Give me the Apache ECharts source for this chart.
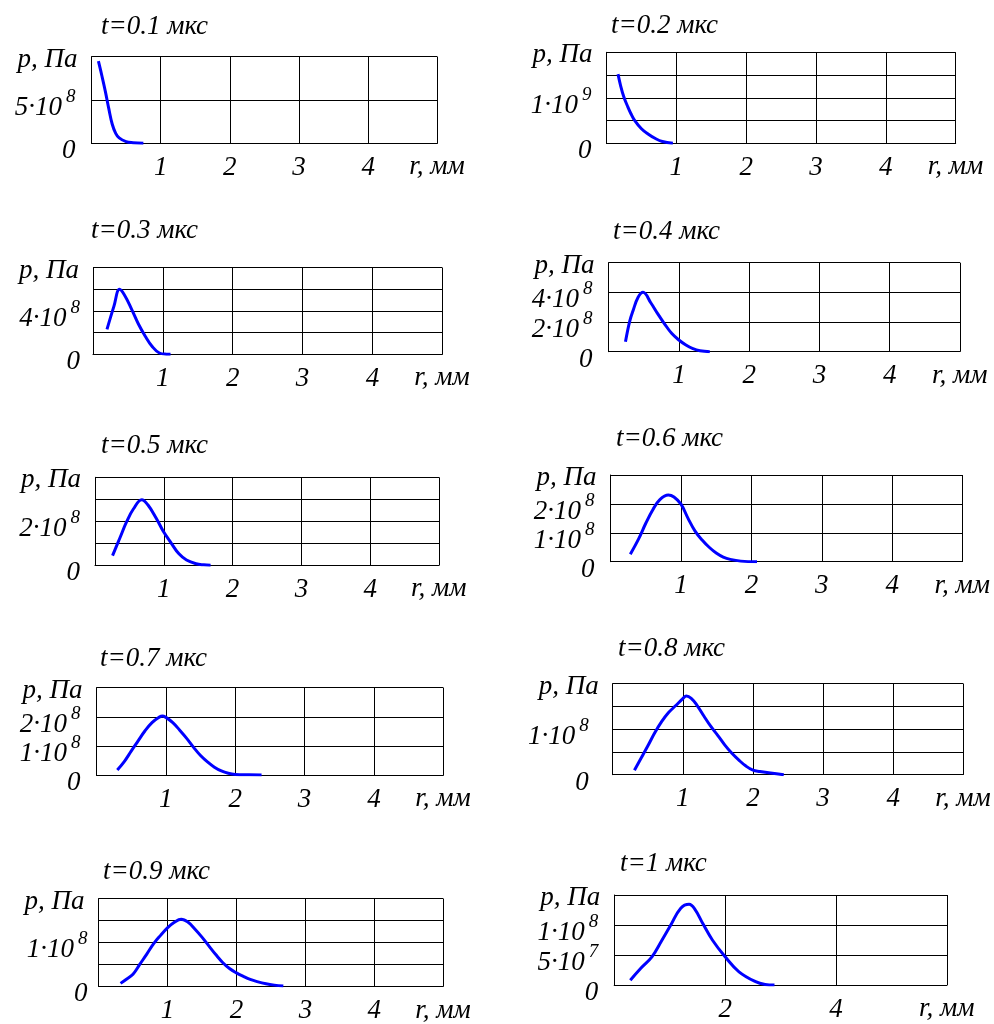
<!DOCTYPE html>
<html>
<head>
<meta charset="utf-8">
<script src="https://cdn.jsdelivr.net/npm/echarts@6/dist/echarts.min.js"></script>
<style>
  html, body { margin: 0; padding: 0; background: #fff; }
  #chart { width: 994px; height: 1024px; }
</style>
</head>
<body>
<div id="chart"></div>
<script>
// Pressure profiles p(r) at successive moments t, one small panel per moment.
const times = ['0.1', '0.2', '0.3', '0.4', '0.5', '0.6', '0.7', '0.8', '0.9', '1'];

// r, mm  /  p, Pa
const r01 = [0.10, 0.15, 0.20, 0.25, 0.30, 0.35, 0.40, 0.50, 0.60, 0.75];
const p01 = [9.5e8, 7.8e8, 6.0e8, 4.0e8, 2.2e8, 1.15e8, 0.62e8, 0.2e8, 0.07e8, 0];

const r02 = [0.165, 0.20, 0.25, 0.30, 0.35, 0.40, 0.50, 0.60, 0.70, 0.80, 0.95];
const p02 = [1.52e9, 1.28e9, 1.01e9, 0.82e9, 0.65e9, 0.51e9, 0.32e9, 0.2e9, 0.105e9, 0.04e9, 0];

const r03 = [0.20, 0.30, 0.38, 0.45, 0.55, 0.65, 0.75, 0.85, 0.95, 1.05, 1.11];
const p03 = [2.3e8, 4.45e8, 6.0e8, 5.48e8, 4.2e8, 2.8e8, 1.65e8, 0.7e8, 0.12e8, 0.01e8, 0];

const r04 = [0.24, 0.30, 0.35, 0.42, 0.49, 0.60, 0.70, 0.80, 0.90, 1.0, 1.1, 1.2, 1.3, 1.44];
const p04 = [0.67e8, 2.05e8, 2.8e8, 3.67e8, 4.0e8, 3.3e8, 2.55e8, 1.85e8, 1.22e8, 0.79e8, 0.45e8, 0.2e8, 0.06e8, 0];

const r05 = [0.255, 0.36, 0.46, 0.56, 0.68, 0.77, 0.89, 0.99, 1.11, 1.22, 1.33, 1.47, 1.58, 1.68];
const p05 = [0.44e8, 1.23e8, 1.98e8, 2.57e8, 2.98e8, 2.74e8, 2.14e8, 1.56e8, 1.0e8, 0.52e8, 0.24e8, 0.07e8, 0.02e8, 0];

const r06 = [0.28, 0.40, 0.50, 0.60, 0.70, 0.82, 0.90, 1.0, 1.1, 1.2, 1.3, 1.4, 1.5, 1.6, 1.7, 1.85, 2.08];
const p06 = [0.26e8, 0.8e8, 1.33e8, 1.8e8, 2.15e8, 2.31e8, 2.24e8, 1.99e8, 1.5e8, 1.06e8, 0.75e8, 0.5e8, 0.3e8, 0.16e8, 0.08e8, 0.02e8, 0];

const r07 = [0.30, 0.40, 0.50, 0.60, 0.70, 0.80, 0.90, 0.95, 1.0, 1.1, 1.2, 1.3, 1.4, 1.5, 1.6, 1.7, 1.8, 1.9, 2.0, 2.2, 2.38];
const p07 = [0.17e8, 0.46e8, 0.82e8, 1.17e8, 1.52e8, 1.8e8, 1.98e8, 2.03e8, 1.98e8, 1.8e8, 1.54e8, 1.26e8, 0.95e8, 0.67e8, 0.45e8, 0.27e8, 0.14e8, 0.06e8, 0.02e8, 0.005e8, 0];

const r08 = [0.31, 0.40, 0.50, 0.60, 0.70, 0.80, 0.90, 1.0, 1.05, 1.12, 1.2, 1.3, 1.4, 1.5, 1.6, 1.7, 1.8, 1.9, 2.0, 2.1, 2.25, 2.44];
const p08 = [0.1e8, 0.35e8, 0.63e8, 0.92e8, 1.17e8, 1.37e8, 1.52e8, 1.67e8, 1.73e8, 1.68e8, 1.53e8, 1.29e8, 1.06e8, 0.86e8, 0.65e8, 0.47e8, 0.32e8, 0.19e8, 0.1e8, 0.07e8, 0.035e8, 0];

const r09 = [0.32, 0.40, 0.50, 0.60, 0.70, 0.80, 0.90, 1.0, 1.1, 1.2, 1.3, 1.4, 1.5, 1.6, 1.7, 1.8, 1.9, 2.0, 2.1, 2.2, 2.3, 2.43, 2.55, 2.68];
const p09 = [0.06e8, 0.15e8, 0.27e8, 0.5e8, 0.73e8, 0.97e8, 1.16e8, 1.33e8, 1.46e8, 1.53e8, 1.46e8, 1.3e8, 1.12e8, 0.92e8, 0.72e8, 0.54e8, 0.4e8, 0.3e8, 0.22e8, 0.15e8, 0.1e8, 0.05e8, 0.02e8, 0];

const r10 = [0.29, 0.48, 0.68, 0.85, 1.02, 1.2, 1.35, 1.45, 1.6, 1.77, 2.0, 2.25, 2.55, 2.72, 2.89];
const p10 = [0.08e8, 0.28e8, 0.47e8, 0.73e8, 1.0e8, 1.28e8, 1.345e8, 1.27e8, 1.02e8, 0.75e8, 0.47e8, 0.22e8, 0.055e8, 0.01e8, 0];

const rSets = [r01, r02, r03, r04, r05, r06, r07, r08, r09, r10];
const pSets = [p01, p02, p03, p04, p05, p06, p07, p08, p09, p10];

// axis ranges
const xMax  = [5, 5, 5, 5, 5, 5, 5, 5, 5, 6];
const xStep = [1, 1, 1, 1, 1, 1, 1, 1, 1, 2];
const yMax  = [1e9, 2e9, 8e8, 6e8, 4e8, 3e8, 3e8, 2e8, 2e8, 1.5e8];
const yStep = [5e8, 5e8, 2e8, 2e8, 1e8, 1e8, 1e8, 5e7, 5e7, 5e7];

// labelled ticks: x values, and y values as [value, mantissa, exponent]
const xTicks = [[1,2,3,4],[1,2,3,4],[1,2,3,4],[1,2,3,4],[1,2,3,4],[1,2,3,4],[1,2,3,4],[1,2,3,4],[1,2,3,4],[2,4]];
const yTicks = [
  [[0, '0'], [5e8, '5·10', '8']],
  [[0, '0'], [1e9, '1·10', '9']],
  [[0, '0'], [4e8, '4·10', '8']],
  [[0, '0'], [2e8, '2·10', '8'], [4e8, '4·10', '8']],
  [[0, '0'], [2e8, '2·10', '8']],
  [[0, '0'], [1e8, '1·10', '8'], [2e8, '2·10', '8']],
  [[0, '0'], [1e8, '1·10', '8'], [2e8, '2·10', '8']],
  [[0, '0'], [1e8, '1·10', '8']],
  [[0, '0'], [1e8, '1·10', '8']],
  [[0, '0'], [5e7, '5·10', '7'], [1e8, '1·10', '8']]
];

// panel placement: plot box [left, top, width, height] and title anchor [x, top]
const boxes = [
  [91.5, 56.7, 345.8, 86.6], [606.5, 52.3, 349.2, 91],
  [93, 267.7, 349.3, 86.6],  [608.6, 262.7, 351.4, 89],
  [95, 477.3, 344, 88],      [610.6, 475, 352, 86.7],
  [96.5, 687.7, 346.8, 87.3],[612.7, 683.7, 350.6, 91],
  [98.5, 898.7, 344.8, 88],  [614.2, 895, 332.8, 90]
];
const titleAt = [
  [101, 13], [611, 12], [91, 217], [613, 218], [101, 432],
  [616, 425], [100, 645], [618, 635], [103, 858], [620, 850]
];
const yLabelGap = [16, 15, 13, 16, 15, 16, 16, 24, 11, 16];

const FONT = 'Liberation Serif';
const INK = '#000';
const SIZE = 27;

const rich = {
  m: { fontFamily: FONT, fontStyle: 'italic', fontSize: SIZE, color: INK, lineHeight: 34, verticalAlign: 'bottom' },
  e: { fontFamily: FONT, fontStyle: 'italic', fontSize: 19, color: INK, lineHeight: 19, verticalAlign: 'top', padding: [0, 0, 0, 4] }
};

const grid = [], xAxis = [], yAxis = [], series = [], title = [], graphic = [];

boxes.forEach((b, i) => {
  const [l, t, w, h] = b;
  grid.push({ left: l, top: t, width: w, height: h, containLabel: false });

  xAxis.push({
    type: 'value', gridIndex: i, min: 0, max: xMax[i], interval: xStep[i],
    axisLine: { show: true, onZero: false, lineStyle: { color: INK, width: 1 } },
    axisTick: { show: false },
    splitLine: { show: true, lineStyle: { color: INK, width: 1 } },
    axisLabel: {
      margin: 11, fontFamily: FONT, fontStyle: 'italic', fontSize: SIZE, color: INK,
      showMinLabel: true, showMaxLabel: true,
      formatter: v => (xTicks[i].some(x => Math.abs(x - v) < 1e-9) ? String(v) : '')
    }
  });

  yAxis.push({
    type: 'value', gridIndex: i, min: 0, max: yMax[i], interval: yStep[i],
    axisLine: { show: true, lineStyle: { color: INK, width: 1 } },
    axisTick: { show: false },
    splitLine: { show: true, lineStyle: { color: INK, width: 1 } },
    axisLabel: {
      margin: yLabelGap[i], padding: [9, 0, 0, 0], rich,
      showMinLabel: true, showMaxLabel: true,
      formatter: v => {
        const hit = yTicks[i].find(d => Math.abs(d[0] - v) < yStep[i] * 1e-6);
        if (!hit) return '';
        return hit[2] ? `{m|${hit[1]}}{e|${hit[2]}}` : `{m|${hit[1]}}`;
      }
    }
  });

  series.push({
    type: 'line', xAxisIndex: i, yAxisIndex: i,
    data: rSets[i].map((r, k) => [r, pSets[i][k]]),
    smooth: 0.4, symbol: 'none',
    lineStyle: { color: '#0000ff', width: 3 },
    z: 5
  });

  title.push({
    text: `t=${times[i]} мкс`, left: titleAt[i][0], top: titleAt[i][1], padding: 0,
    textStyle: { fontFamily: FONT, fontStyle: 'italic', fontWeight: 'normal', fontSize: SIZE, color: INK }
  });

  graphic.push({
    type: 'text', x: l - 14, y: t + 3,
    style: { text: 'p, Па', font: `italic ${SIZE}px "${FONT}"`, fill: INK, align: 'right', verticalAlign: 'middle' }
  });
  graphic.push({
    type: 'text', x: l + w - 28, y: t + h + 24,
    style: { text: 'r, мм', font: `italic ${SIZE}px "${FONT}"`, fill: INK, align: 'left', verticalAlign: 'middle' }
  });
});

const chart = echarts.init(document.getElementById('chart'), null, { renderer: 'canvas' });
chart.setOption({
  backgroundColor: '#fff',
  animation: false,
  title, grid, xAxis, yAxis, series, graphic
});
</script>
</body>
</html>
